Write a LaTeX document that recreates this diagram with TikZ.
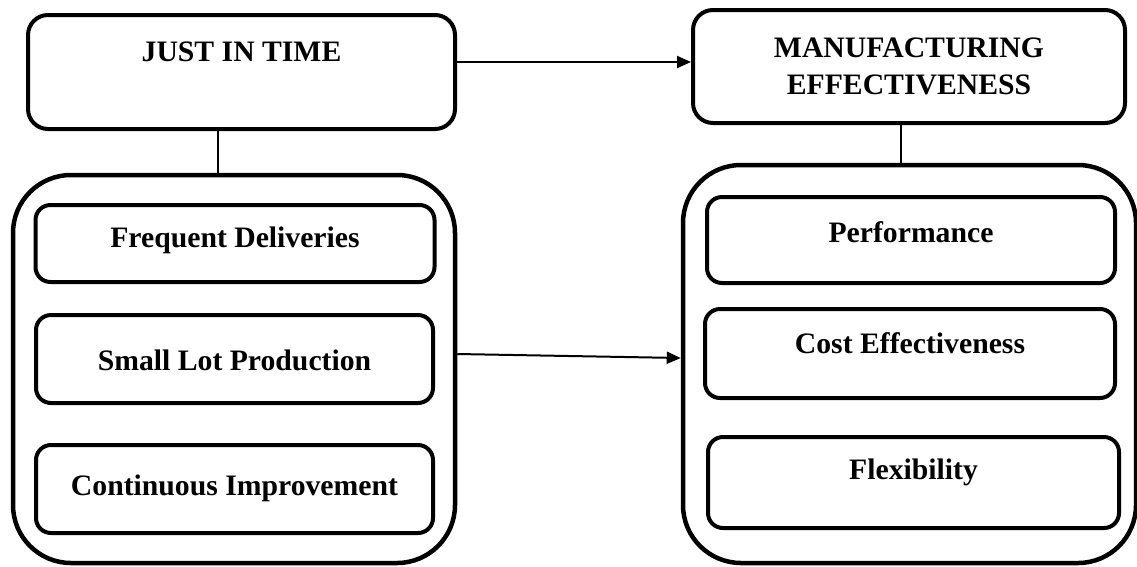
\documentclass[tikz,border=0pt]{standalone}
\usepackage{fontspec}
\setmainfont{Liberation Serif}
\usetikzlibrary{arrows.meta,calc}
\tikzset{
  topbox/.style={draw=black, line width=4pt, rounded corners=20pt, inner sep=0pt},
  container/.style={draw=black, line width=4.5pt, rounded corners=58pt, inner sep=0pt},
  itembox/.style={draw=black, line width=4pt, rounded corners=15pt, inner sep=0pt},
  lbl/.style={inner sep=0pt, font=\fontsize{29.7}{37}\selectfont\bfseries, align=center},
  conn/.style={draw=black, line width=2pt},
  arr/.style={conn, -{Triangle[length=14pt,width=12pt]}}
}
\begin{document}
\begin{tikzpicture}[x=1pt,y=-1pt]
\useasboundingbox (0,0) rectangle (1137,566);
% top boxes
\node[topbox, minimum width=427pt, minimum height=114pt] (jit) at (241.5,72) {};
\node[lbl] (jitt) at (241.5,52) {JUST IN TIME};
\node[topbox, minimum width=432pt, minimum height=113pt] (me) at (909,66.5) {};
\node[lbl] (met) at (909,66.5) {MANUFACTURING\\EFFECTIVENESS};
% containers
\node[container, minimum width=442pt, minimum height=388pt] (lc) at (234,369) {};
\node[container, minimum width=453pt, minimum height=398pt] (rc) at (909.5,364) {};
% left items
\node[itembox, minimum width=399pt, minimum height=77pt] (fd) at (235,243.5) {};
\node[lbl] (fdt) at (235,240) {Frequent Deliveries};
\node[itembox, minimum width=397pt, minimum height=88pt] (sl) at (234.5,359) {};
\node[lbl] (slt) at (234.5,360) {Small Lot Production};
\node[itembox, minimum width=397pt, minimum height=88pt] (ci) at (234.5,489) {};
\node[lbl] (cit) at (234.5,488) {Continuous Improvement};
% right items
\node[itembox, minimum width=408pt, minimum height=86pt] (pf) at (911,240) {};
\node[lbl] (pft) at (911,232) {Performance};
\node[itembox, minimum width=410pt, minimum height=89pt] (ce) at (910,353.5) {};
\node[lbl] (cet) at (910,343) {Cost Effectiveness};
\node[itembox, minimum width=411pt, minimum height=91pt] (fx) at (913.5,482.5) {};
\node[lbl] (fxt) at (913.5,472) {Flexibility};
% connectors
\draw[arr] ([yshift=10pt]jit.east) -- ([yshift=4.5pt]me.west);
\draw[conn] ([xshift=-23.5pt]jit.south) -- ([xshift=-23.5pt]jit.south |- lc.north);
\draw[conn] ([xshift=-8pt]me.south) -- ([xshift=-8pt]me.south |- rc.north);
\draw[arr] ([yshift=15pt]lc.east) -- ([yshift=6pt]rc.west);
\end{tikzpicture}
\end{document}
